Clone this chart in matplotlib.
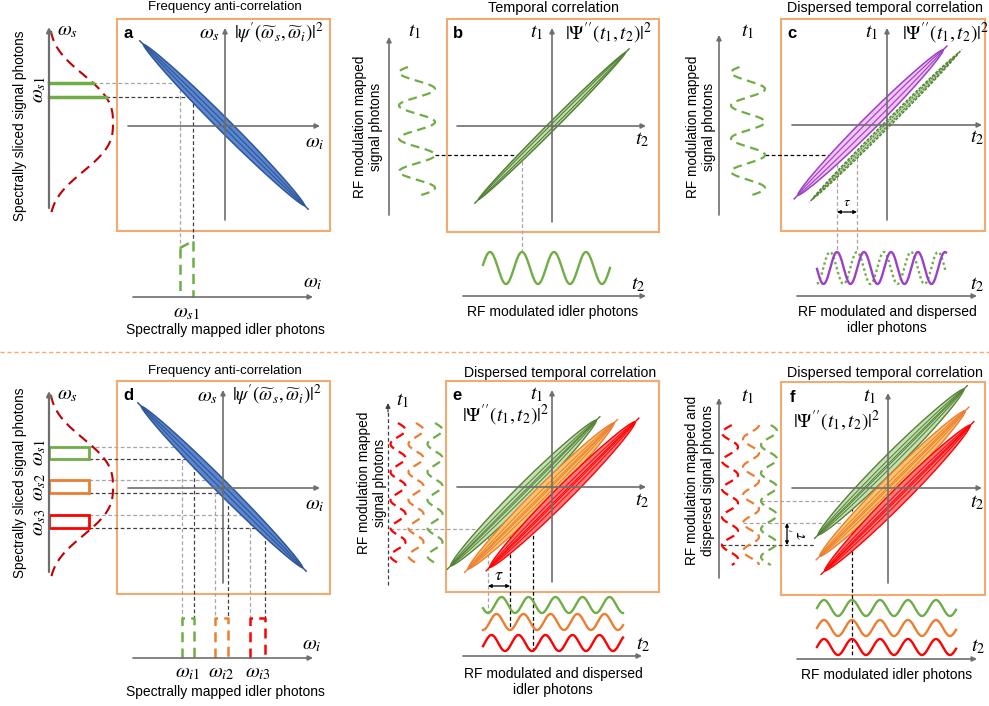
import numpy as np
import matplotlib
matplotlib.use('Agg')
import matplotlib.pyplot as plt
from matplotlib.patches import Polygon, Rectangle

plt.rcParams['font.family'] = ['Liberation Sans', 'DejaVu Sans']
plt.rcParams['mathtext.fontset'] = 'stix'

# ---------------- texts ----------------
letters = ['a', 'b', 'c', 'd', 'e', 'f']
titles = ['Frequency anti-correlation', 'Temporal correlation', 'Dispersed temporal correlation',
          'Frequency anti-correlation', 'Dispersed temporal correlation', 'Dispersed temporal correlation']
captions = ['Spectrally mapped idler photons', 'RF modulated idler photons',
            'RF modulated and dispersed\nidler photons', 'Spectrally mapped idler photons',
            'RF modulated and dispersed\nidler photons', 'RF modulated idler photons']
side_labels = ['Spectrally sliced signal photons', 'RF modulation mapped\nsignal photons',
               'RF modulation mapped\nsignal photons', 'Spectrally sliced signal photons',
               'RF modulation mapped\nsignal photons', 'RF modulation mapped and\ndispersed signal photons']
jsa_label = r"$|\psi'(\widetilde{\omega}_s,\widetilde{\omega}_i)|^2$"
jta_label = r"$|\mathit{\Psi}''(t_1,t_2)|^2$"
ws_labels = [r'$\omega_{s1}$', r'$\omega_{s2}$', r'$\omega_{s3}$']
wi_labels = [r'$\omega_{i1}$', r'$\omega_{i2}$', r'$\omega_{i3}$']

# ---------------- colours ----------------
BOX = '#F4A971'
AXC = '#6E6E6E'
LIGHT = '#A6A6A6'
DARK = '#404040'
GREEN, DKGREEN, LTGREEN = '#70AD47', '#548235', '#C5E0B4'
ORANGE, LTORANGE = '#ED7D31', '#FAC76E'
RED, LTRED = '#FF0000', '#FF7C80'
BLUE, DKBLUE = '#5B86D0', '#2F5597'
PURPLE, LTPURPLE = '#9B40C8', '#F4C4F4'
slice_colors = [GREEN, ORANGE, RED]

# ---------------- layout (pixels, y downwards) ----------------
box_l = [117, 447, 781, 117, 446, 781]
box_t = [19, 19, 19, 381, 381, 382]
box_r = [330, 659, 985, 330, 659, 985]
box_b = [231, 232, 231, 594, 592, 595]
org_x = [225, 552, 887, 223, 552, 888]
org_y = [126, 126, 125, 488, 487, 488]
vax_top = [28, 28, 28, 390, 390, 393]
vax_bot = [220, 222, 220, 583, 582, 583]
hax_l = [128, 457, 792, 128, 457, 792]
hax_r = [320, 646, 982, 320, 646, 982]
title_x = [225, 553, 885, 225, 560, 885]
title_y = [7, 8, 8, 371, 373, 373]
title_fs = [9.5, 10.4, 10.3, 9.5, 10.1, 10.3]
cap_x = [225, 553, 887, 225, 553, 887]
cap_y = [330, 312, 320, 692, 682, 675]
side_x = [20, 368, 701, 20, 372, 700]
side_y = [126, 127, 127, 483, 483, 480]

MS = 14.5  # size of the math symbols

fig = plt.figure(figsize=(9.89, 7.06), dpi=100)
ax = fig.add_axes([0, 0, 1, 1])
ax.set_xlim(0, 989)
ax.set_ylim(706, 0)
ax.axis('off')


def arrow(x0, y0, x1, y1, color=AXC, lw=1.2, z=5):
    ax.annotate('', xy=(x1, y1), xytext=(x0, y0),
                arrowprops=dict(arrowstyle='-|>', color=color, lw=lw, mutation_scale=7,
                                shrinkA=0, shrinkB=0), zorder=z)


def dline(xs, ys, color=DARK, lw=0.9, dash=(3, 2)):
    ax.plot(xs, ys, color=color, lw=lw, ls=(0, dash), zorder=2)


def lens(cx, cy, length, width, ang, face, edge, fracs=(1, 0.35), ls='-', lw=1.1):
    s = np.linspace(-1, 1, 300)
    a = np.deg2rad(ang)
    u = np.array([np.cos(a), np.sin(a)])
    n = np.array([-u[1], u[0]])
    half = width / 2 * (1 - s ** 2) ** 0.6
    for k, f in enumerate(fracs):
        top = np.c_[cx + s * length / 2 * u[0] + half * f * n[0], cy + s * length / 2 * u[1] + half * f * n[1]]
        bot = np.c_[cx + s * length / 2 * u[0] - half * f * n[0], cy + s * length / 2 * u[1] - half * f * n[1]]
        if k == 0:
            ax.add_patch(Polygon(np.vstack([top, bot[::-1]]), closed=True, fc=face, ec=edge,
                                 lw=lw, ls=ls, zorder=3))
        else:
            ax.plot(top[:, 0], top[:, 1], color=edge, lw=lw * 0.75, ls=ls, zorder=3)
            ax.plot(bot[:, 0], bot[:, 1], color=edge, lw=lw * 0.75, ls=ls, zorder=3)
    # thin tails at both tips
    for sg in (-1, 1):
        ax.plot([cx + sg * length / 2 * u[0], cx + sg * (length / 2 + 5) * u[0]],
                [cy + sg * length / 2 * u[1], cy + sg * (length / 2 + 5) * u[1]],
                color=edge, lw=lw, ls=ls, zorder=3)


def hwave(x0, x1, yc, amp, period, xpk, color, ls='-', lw=1.7):
    x = np.linspace(x0, x1, 400)
    ax.plot(x, yc - amp * np.cos(2 * np.pi * (x - xpk) / period), color=color, lw=lw, ls=ls, zorder=3)


def vwave(y0, y1, xc, amp, period, ypk, color, ls=(0, (4, 2.5)), lw=1.6):
    y = np.linspace(y0, y1, 400)
    ax.plot(xc + amp * np.cos(2 * np.pi * (y - ypk) / period), y, color=color, lw=lw, ls=ls, zorder=3)


def spectrum(x0, yc):
    return lambda y: x0 + 64 * np.exp(-0.5 * (np.abs(y - yc) / 44.6) ** 2.7)


def tau_arrow(x0, y0, x1, y1):
    ax.annotate('', xy=(x1, y1), xytext=(x0, y0),
                arrowprops=dict(arrowstyle='<|-|>', color='black', lw=0.9, mutation_scale=5,
                                shrinkA=0, shrinkB=0))


# ---------------- common frame of every panel ----------------
for p in range(6):
    ax.add_patch(Rectangle((box_l[p], box_t[p]), box_r[p] - box_l[p], box_b[p] - box_t[p],
                           fill=False, ec=BOX, lw=1.5, zorder=1))
    arrow(org_x[p], vax_bot[p], org_x[p], vax_top[p])
    arrow(hax_l[p], org_y[p], hax_r[p], org_y[p])
    ax.text(title_x[p], title_y[p], titles[p], ha='center', va='center', fontsize=title_fs[p])
    ax.text(cap_x[p], cap_y[p], captions[p], ha='center', va='center', fontsize=10, linespacing=1.25)
    ax.text(side_x[p], side_y[p], side_labels[p], ha='center', va='center', rotation=90,
            fontsize=9.8, linespacing=1.2)
    ax.text(box_l[p] + 11, box_t[p] + 15, letters[p], ha='center', va='center',
            fontsize=12, fontweight='bold')

ax.plot([0, 989], [352, 352], color=BOX, lw=1, ls=(0, (3, 2)))

# ---------------- a and d: frequency anti-correlation ----------------
for p, yc in [(0, 123), (3, 487)]:
    ox, oy = org_x[p], org_y[p]
    ax.text(ox - 16, box_t[p] + 15, r'$\omega_s$', ha='center', va='center', fontsize=MS)
    ax.text(ox + 54, box_t[p] + 14, jsa_label, ha='center', va='center', fontsize=13.5)
    ax.text(hax_r[p] - 5, oy + 17, r'$\omega_i$', ha='center', va='center', fontsize=MS)
    lens(ox - 1, oy - 1, 228, 13, 45, BLUE, DKBLUE, fracs=(1, 0.3))
    arrow(49, yc + 85, 49, yc - 96, lw=1.6)
    ax.text(67, yc - 92, r'$\omega_s$', ha='center', va='center', fontsize=MS)
    f = spectrum(49, yc)
    yy = np.linspace(yc - 92, yc + 94, 300)
    ax.plot(f(yy), yy, color='#C00000', lw=1.5, ls=(0, (5, 3)), zorder=3)

# panel a slice
ys_a = [83, 97]
xs_a = [180, 193]
tops_a = [248, 241]
spec_a = spectrum(49, 123)
for y, x, t, c in zip(ys_a, xs_a, tops_a, [LIGHT, DARK]):
    ax.plot([49, spec_a(y)], [y, y], color=GREEN, lw=2.5, zorder=4)
    dline([spec_a(y), x], [y, y], c)
    dline([x, x], [y, t], c)
    ax.plot([x, x], [t, 297], color=GREEN, lw=1.8, ls=(0, (4, 2.5)), zorder=3)
ax.plot(xs_a, tops_a, color=GREEN, lw=1.8, ls=(0, (4, 2.5)), zorder=3)
arrow(133, 297, 313, 297)
ax.text(313, 283, r'$\omega_i$', ha='center', va='center', fontsize=MS)
ax.text(186, 313, r'$\omega_{s1}$', ha='center', va='center', fontsize=MS)
ax.text(38, 90, ws_labels[0], ha='center', va='center', fontsize=MS, rotation=90)

# panel d slices
ys_d = [(447, 459), (480, 493), (515, 528)]
xs_d = [(182, 194), (215, 228), (250, 265)]
lab_y = [453, 487, 522]
for (y0, y1), (x0, x1), c, lbl, ly, wl in zip(ys_d, xs_d, slice_colors, ws_labels, lab_y, wi_labels):
    ax.add_patch(Rectangle((49, y0), 40, y1 - y0, fill=False, ec=c, lw=2, zorder=4))
    ax.text(39, ly, lbl, ha='center', va='center', fontsize=MS, rotation=90)
    dline([89, x0], [y0, y0], LIGHT)
    dline([89, x1], [y1, y1], DARK)
    dline([x0, x0], [y0, 618], LIGHT)
    dline([x1, x1], [y1, 618], DARK)
    ax.plot([x0, x0, x1, x1], [658, 618, 618, 658], color=c, lw=1.8, ls=(0, (4, 2.5)), zorder=3)
    ax.text((x0 + x1) / 2, 673, wl, ha='center', va='center', fontsize=MS)
arrow(133, 658, 313, 658)
ax.text(312, 645, r'$\omega_i$', ha='center', va='center', fontsize=MS)

# ---------------- b: temporal correlation ----------------
ax.text(537, 33, r'$t_1$', ha='center', va='center', fontsize=MS)
ax.text(609, 33, jta_label, ha='center', va='center', fontsize=14)
ax.text(642, 140, r'$t_2$', ha='center', va='center', fontsize=MS)
lens(552, 126, 208, 8, -45, LTGREEN, DKGREEN, fracs=(1, 0.4))
arrow(389, 215, 389, 37)
ax.text(415, 32, r'$t_1$', ha='center', va='center', fontsize=MS)
vwave(67, 195, 417, 18, 33, 155, GREEN)
dline([435, 523], [155, 155], 'black')
dline([522, 522], [155, 252], LIGHT)
hwave(483, 610, 268, 16, 32, 522, GREEN)
arrow(463, 296, 646, 296)
ax.text(638, 284, r'$t_2$', ha='center', va='center', fontsize=MS)

# ---------------- c: dispersed temporal correlation ----------------
ax.text(872, 33, r'$t_1$', ha='center', va='center', fontsize=MS)
ax.text(946, 33, jta_label, ha='center', va='center', fontsize=14)
ax.text(977, 138, r'$t_2$', ha='center', va='center', fontsize=MS)
lens(870.5, 122.5, 206, 14, -45, LTPURPLE, PURPLE, fracs=(1, 0.35))
lens(885.5, 126, 206, 6, -45, LTGREEN, DKGREEN, fracs=(1, 0.4), ls=(0, (2, 1)))
arrow(719, 215, 719, 35)
ax.text(748, 32, r'$t_1$', ha='center', va='center', fontsize=MS)
vwave(67, 195, 748, 17, 33, 155, GREEN)
dline([765, 832], [155, 155], 'black')
dline([837, 837], [158, 252], LIGHT)
dline([857, 857], [158, 252], LIGHT)
tau_arrow(837, 212, 857, 212)
ax.text(847, 202, r'$\tau$', ha='center', va='center', fontsize=10)
hwave(817, 946, 268, 16, 27, 857, GREEN, ls=(0, (1, 1.2)), lw=1.7)
hwave(817, 946, 268, 16, 27, 837, PURPLE)
arrow(797, 296, 977, 296)
ax.text(977, 284, r'$t_2$', ha='center', va='center', fontsize=MS)

# ---------------- e: dispersed idler ----------------
ax.text(537, 394, r'$t_1$', ha='center', va='center', fontsize=MS)
ax.text(506, 415, jta_label, ha='center', va='center', fontsize=14)
ax.text(642, 500, r'$t_2$', ha='center', va='center', fontsize=MS)
e_cx = [523.5, 541, 562.5]
e_cy = [493, 496, 494.5]
faces = [LTGREEN, LTORANGE, LTRED]
edges = [DKGREEN, ORANGE, RED]
for cx, cy, fc, ec in zip(e_cx, e_cy, faces, edges):
    lens(cx, cy, 206, 16, -45, fc, ec, fracs=(1, 0.45, 0.1), lw=1.0)
ax.plot([388, 388], [585, 410], color=DARK, lw=0.9, ls=(0, (3, 2)))
arrow(388, 412, 388, 403, color=DARK, lw=0.9)
ax.text(403, 400, r'$t_1$', ha='center', va='center', fontsize=MS)
for xc, c in zip([398, 416, 435], [RED, ORANGE, GREEN]):
    vwave(423, 565, xc, 7.5, 28, 542, c)
dline([390, 533], [529, 529], LIGHT)
dline([488, 488], [529, 613], LIGHT)
dline([510, 510], [529, 630], 'black')
dline([533, 533], [529, 651], 'black')
tau_arrow(488, 586, 510, 586)
ax.text(499, 575, r'$\tau$', ha='center', va='center', fontsize=13)
for yc, pk, c in zip([605, 622, 643], [501.5, 523.5, 545.5], [GREEN, ORANGE, RED]):
    hwave(483, 623, yc, 8, 27, pk, c)
arrow(463, 656, 642, 656)
ax.text(643, 645, r'$t_2$', ha='center', va='center', fontsize=MS)

# ---------------- f: dispersed signal ----------------
ax.text(870, 396, r'$t_1$', ha='center', va='center', fontsize=MS)
ax.text(837, 421, jta_label, ha='center', va='center', fontsize=14)
ax.text(977, 502, r'$t_2$', ha='center', va='center', fontsize=MS)
f_cx = [891, 892.5, 897.5]
f_cy = [462, 483.5, 498]
for cx, cy, fc, ec in zip(f_cx, f_cy, faces, edges):
    lens(cx, cy, 206, 16, -45, fc, ec, fracs=(1, 0.45, 0.1), lw=1.0)
arrow(719, 578, 719, 398)
ax.text(748, 396, r'$t_1$', ha='center', va='center', fontsize=MS)
for xc, pk, c in zip([730, 751, 769], [559, 537, 515], [RED, ORANGE, GREEN]):
    vwave(425, 565, xc, 8, 28, pk, c)
dline([761, 852], [501, 501], LIGHT)
dline([743, 852], [523, 523], LIGHT)
dline([722, 815], [545, 545], DARK)
dline([852, 852], [501, 657], 'black')
tau_arrow(787, 523, 787, 545)
ax.text(799, 534, r"$\tau'$", ha='center', va='center', fontsize=12, rotation=90)
for yc, c in zip([608, 628, 647], [GREEN, ORANGE, RED]):
    hwave(817, 956, yc, 8, 28, 852, c)
arrow(797, 659, 977, 659)
ax.text(978, 647, r'$t_2$', ha='center', va='center', fontsize=MS)

fig.savefig('out.png', dpi=100)
